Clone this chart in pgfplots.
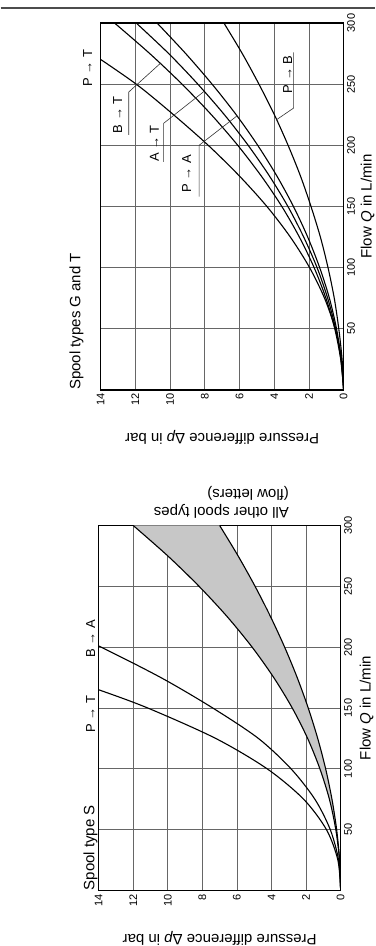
\documentclass[border=0pt]{standalone}
\usepackage{fontspec}
\setmainfont{Liberation Sans}
\usepackage{pgfplots}
\usepackage{pgfplotstable}
\pgfplotsset{compat=1.18}
\usepgfplotslibrary{fillbetween}

% ---- upper chart: spool types G and T (pressure in bar, flow in L/min)
\pgfplotstableread{
p q
0 0
0.12 25
0.49 50
1.10 75
1.96 100
3.07 125
4.42 150
6.01 175
7.80 200
9.80 225
11.95 250
14.50 275
}\GPT
\pgfplotstableread{
p q
0 0
0.17 25
0.51 50
1.02 75
1.70 100
2.55 125
3.56 150
4.75 175
6.10 200
7.62 225
9.31 250
11.17 275
13.20 300
}\GBT
\pgfplotstableread{
p q
0 0
0.155 25
0.46 50
0.92 75
1.53 100
2.30 125
3.21 150
4.28 175
5.50 200
6.87 225
8.40 250
10.08 275
11.95 300
}\GAT
\pgfplotstableread{
p q
0 0
0.14 25
0.41 50
0.82 75
1.38 100
2.07 125
2.89 150
3.85 175
4.95 200
6.19 225
7.58 250
9.10 275
10.75 300
}\GPA
\pgfplotstableread{
p q
0 0
0.09 25
0.28 50
0.54 75
0.90 100
1.34 125
1.88 150
2.49 175
3.20 200
3.99 225
4.88 250
5.84 275
6.90 300
}\GPB
% ---- lower chart: spool type S
\pgfplotstableread{
p q
0 0
0.16 25
0.82 50
2.14 75
4.25 100
7.23 125
11.16 150
14.00 165
16.10 175
}\SPT
\pgfplotstableread{
p q
0 0
0.12 25
0.60 50
1.49 75
2.87 100
4.76 125
7.40 150
10.40 175
14.00 201
15.50 210
}\SBA
\pgfplotstableread{
p q
0 0
0.065 25
0.28 50
0.65 75
1.20 100
1.91 125
2.80 150
3.87 175
5.12 200
6.56 225
8.19 250
10.00 275
12.00 300
}\SHI
\pgfplotstableread{
p q
0 0
0.062 25
0.232 50
0.503 75
0.868 100
1.327 125
1.876 150
2.513 175
3.240 200
4.053 225
4.950 250
5.933 275
7.000 300
}\SLO

\pgfplotsset{
  valve/.style={
    scale only axis,
    anchor=center,
    x dir=reverse,
    xmin=0, xmax=14, ymin=0, ymax=300,
    xtick={0,2,...,14},
    ytick={50,100,...,300},
    grid=major,
    major grid style={draw=black!60, line width=0.7pt},
    axis line style={line width=1.1pt},
    major tick length=0pt,
    yticklabel pos=right,
    xticklabel style={rotate=90, anchor=east, font=\fontsize{11}{13}\selectfont},
    yticklabel style={rotate=90, anchor=north, font=\fontsize{11}{13}\selectfont},
    /pgf/number format/assume math mode=true,
    clip mode=individual,
  },
  curve/.style={black, line width=1.1pt, smooth},
}
\tikzset{
  lab/.style={font=\fontsize{15}{18}\selectfont, inner sep=0pt},
  ann/.style={font=\fontsize{13}{15}\selectfont, inner sep=0pt, rotate=90},
  lead/.style={black!80, line width=0.6pt},
}

\begin{document}
\begin{tikzpicture}
\path (0pt,0pt) rectangle (374pt,946pt);
\draw[black!70, line width=1.3pt] (0pt,938pt) -- (374pt,938pt);

% ===== upper chart =====
\begin{axis}[valve, width=243pt, height=367pt, at={(221.5pt,739.5pt)}]
\addplot[curve] table[x=p,y=q] {\GPT};
\addplot[curve] table[x=p,y=q] {\GBT};
\addplot[curve] table[x=p,y=q] {\GAT};
\addplot[curve] table[x=p,y=q] {\GPA};
\addplot[curve] table[x=p,y=q] {\GPB};
% labels and leaders
\node[ann] at (axis cs:14.75,263) {P → T};
\node[ann] at (axis cs:13.02,225) {B → T};
\draw[lead] (axis cs:12.38,208.5) -- (axis cs:12.38,243.6) -- (axis cs:10.56,267);
\node[ann] at (axis cs:10.90,201.5) {A → T};
\draw[lead] (axis cs:10.37,186.5) -- (axis cs:10.37,218) -- (axis cs:8.05,244);
\node[ann] at (axis cs:9.04,176.6) {P → A};
\draw[lead] (axis cs:8.33,158) -- (axis cs:8.33,200) -- (axis cs:6.15,224);
\node[ann] at (axis cs:3.23,258) {P → B};
\draw[lead] (axis cs:2.88,276) -- (axis cs:2.88,230.5) -- (axis cs:3.86,221);
% titles
\node[xshift=-17pt, lab, rotate=90, anchor=south west] at (axis cs:14,0) {Spool types G and T};
\node[xshift=24pt, lab, rotate=90] at (axis cs:0,150) {Flow \textit{Q} in L/min};
\node[yshift=-47pt, lab, rotate=180] at (axis cs:7,0) {Pressure difference Δ\textit{p} in bar};
\end{axis}

% ===== lower chart =====
\begin{axis}[valve, width=242pt, height=365pt, at={(219pt,238pt)}]
\addplot[draw=none, smooth, name path=hi] table[x=p,y=q] {\SHI};
\addplot[draw=none, smooth, name path=lo] table[x=p,y=q] {\SLO};
\addplot[fill=black!22, draw=none] fill between[of=hi and lo];
\addplot[curve] table[x=p,y=q] {\SPT};
\addplot[curve] table[x=p,y=q] {\SBA};
\addplot[curve] table[x=p,y=q] {\SHI};
\addplot[curve] table[x=p,y=q] {\SLO};
\node[ann] at (axis cs:14.46,145) {P → T};
\node[ann] at (axis cs:14.46,207) {B → A};
\node[yshift=7pt, lab, rotate=180, anchor=north west, align=left] at (axis cs:2.98,300) {All other spool types\\(flow letters)};
\node[xshift=-1pt, lab, rotate=90, anchor=south west] at (axis cs:14,0) {Spool type S};
\node[xshift=26pt, lab, rotate=90] at (axis cs:0,150) {Flow \textit{Q} in L/min};
\node[yshift=-48pt, lab, rotate=180] at (axis cs:7,0) {Pressure difference Δ\textit{p} in bar};
\end{axis}
\end{tikzpicture}
\end{document}
